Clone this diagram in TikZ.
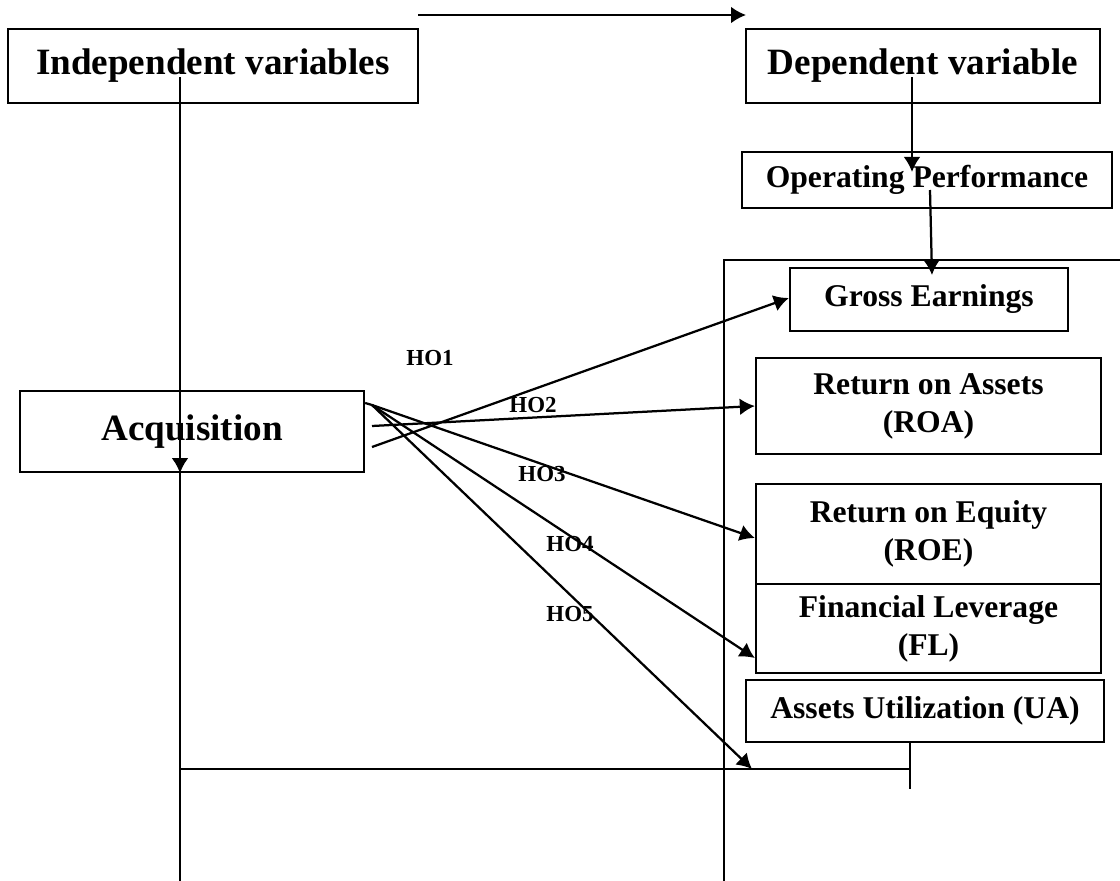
\documentclass[tikz,border=0pt]{standalone}
\usepackage{fontspec}
\setmainfont{Liberation Serif}
\usetikzlibrary{arrows.meta}
\tikzset{>={Latex[length=3.75mm,width=4.2mm]}}
\tikzset{
  varbox/.style={draw,inner sep=0pt,align=center,font=\bfseries\fontsize{26.4}{30}\selectfont},
  subbox/.style={draw,inner sep=0pt,align=center,font=\bfseries\fontsize{22.5}{27}\selectfont},
  holabel/.style={font=\bfseries\fontsize{16.3}{18}\selectfont},
}

\begin{document}
\begin{tikzpicture}[x=0.025cm,y=-0.025cm,line width=1.6pt]
    \useasboundingbox (0,0) rectangle (1120,881);
    % variable boxes
    \node[varbox,minimum width=10.25cm,minimum height=1.85cm] (indep) at (213,66) {Independent variables};
    \node[varbox,minimum width=8.85cm,minimum height=1.85cm] (dep) at (923,66) {Dependent variable};
    \node[subbox,minimum width=9.25cm,minimum height=1.4cm] (opperf) at (927,180) {Operating Performance};
    \node[varbox,minimum width=8.6cm,minimum height=2.025cm] (acq) at (192,431.5) {Acquisition};
    % measures
    \node[subbox,minimum width=6.95cm,minimum height=1.575cm] (gross) at (929,299.5) {Gross Earnings};
    \node[subbox,minimum width=8.625cm,minimum height=2.4cm] (roa) at (928.5,406) {Return on Assets\\(ROA)};
    \node[subbox,minimum width=8.625cm,minimum height=2.5cm] (roe) at (928.5,534) {Return on Equity\\(ROE)};
    \node[subbox,minimum width=8.625cm,minimum height=2.225cm] (fl) at (928.5,628.5) {Financial Leverage\\(FL)};
    \node[subbox,minimum width=8.95cm,minimum height=1.55cm] (ua) at (925,711) {Assets Utilization (UA)};
    % frame round the measures
    \draw (724,881) -- (724,260) -- (1120,260);
    % top arrow
    \coordinate (topl) at (418,15);
    \coordinate (topr) at (746,15);
    \draw[->] (topl) -- (topr);
    % vertical links
    \coordinate (ivtop) at (180,77);
    \coordinate (ivbot) at (180,881);
    \draw[->] (ivtop) -- (ivtop |- acq.south);
    \draw (ivtop |- acq.south) -- (ivbot);
    \coordinate (dvtop) at (912,77);
    \draw[->] (dvtop) -- (912,172);
    \coordinate (optop) at (930,190);
    \draw[->] (optop) -- (932,275);
    \coordinate (uabot) at (910,789);
    \draw (ua.south -| uabot) -- (uabot);
    \coordinate (hend) at (910,769);
    \draw (ivtop |- hend) -- (hend);
    % hypotheses
    \coordinate (src) at (372,405);
    \draw (acq.east |- 0,403) -- (src);
    \draw[->] (372,447) -- (gross.west |- 0,298);
    \draw[->] (372,426) -- (roa.west);
    \draw[->] (src) -- (roe.west |- 0,538);
    \draw[->] (src) -- (fl.west |- 0,658);
    \draw[->] (src) -- (752,769);
    \foreach \n/\x/\y in {1/430/358,2/533/405,3/542/474,4/570/544,5/570/614}
      \node[holabel] (ho\n) at (\x,\y) {HO\n};
\end{tikzpicture}
\end{document}
